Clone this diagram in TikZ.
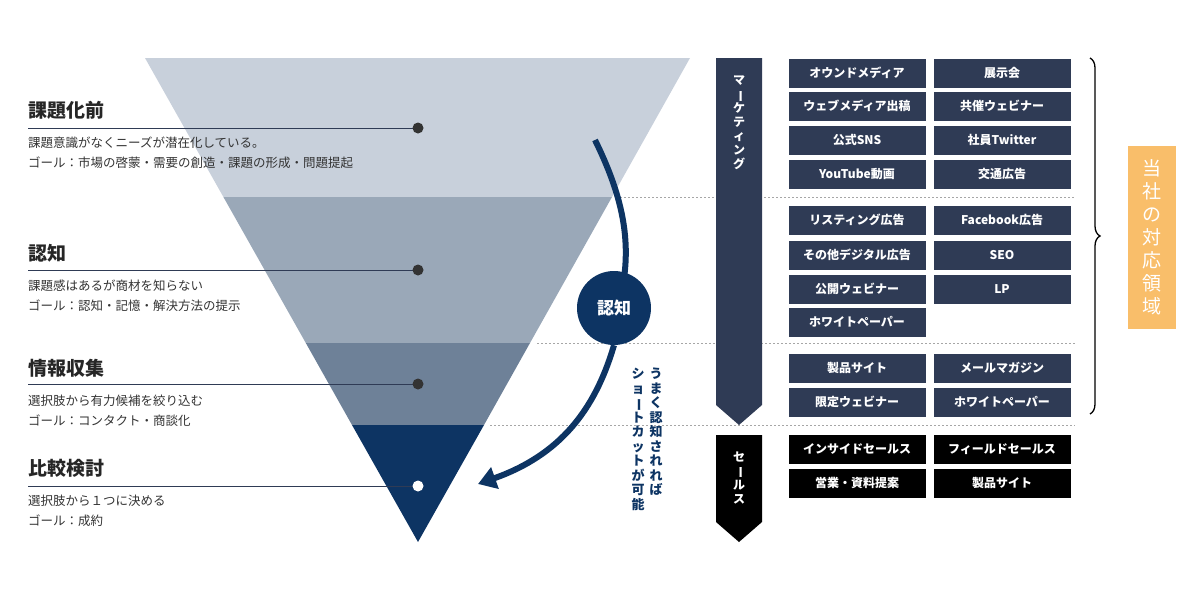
\documentclass[tikz,border=0pt]{standalone}
\usepackage{fontspec}
\usepackage{graphicx}
\setmainfont{Noto Sans CJK JP}
\usetikzlibrary{decorations.pathreplacing,arrows.meta}
\newcommand{\vbar}{\rotatebox[origin=c]{-90}{ー}}
\definecolor{navy}{HTML}{0D3463}
\definecolor{bar}{HTML}{2F3B55}
\definecolor{l1}{HTML}{C8D0DB}
\definecolor{l2}{HTML}{9AA8B8}
\definecolor{l3}{HTML}{6E8198}
\definecolor{org}{HTML}{F9BE6A}
\tikzset{
 bx/.style={fill=bar,text=white,font=\fontsize{12}{12}\selectfont\bfseries,minimum width=137pt,minimum height=29pt,inner sep=0pt},
 sbx/.style={bx,fill=black},
 ttl/.style={anchor=west,font=\fontsize{19}{19}\selectfont\bfseries,text=black!85,inner sep=0},
 dsc/.style={anchor=west,font=\fontsize{12.5}{12.5}\selectfont,text=black!80,inner sep=0},
 dots/.style={gray!70,dash pattern=on 2pt off 2pt,line width=0.8pt},
 vt/.style={align=center,font=\fontsize{13}{14.5}\selectfont\bfseries,inner sep=0},
}
\begin{document}
\begin{tikzpicture}[x=1pt,y=-1pt]
\useasboundingbox (0,0) rectangle (1200,600);
% funnel
\fill[l1] (145,58) -- (690,58) -- (612,197) -- (223.4,197) -- cycle;
\fill[l2] (223.4,197) -- (612,197) -- (530,343) -- (305.8,343) -- cycle;
\fill[l3] (305.8,343) -- (530,343) -- (484,425) -- (352,425) -- cycle;
\fill[navy] (352,425) -- (484,425) -- (418,542) -- cycle;
% dotted lines
\draw[dots] (620,197) -- (1075,197);
\draw[dots] (537,343) -- (1075,343);
\draw[dots] (490,425) -- (1075,425);
% left labels
\foreach \y/\t/\a/\b/\c/\dc in {110/課題化前/課題意識がなくニーズが潜在化している。/ゴール：市場の啓蒙・需要の創造・課題の形成・問題提起/128/black!80,
 253/認知/課題感はあるが商材を知らない/ゴール：認知・記憶・解決方法の提示/270/black!80,
 368/情報収集/選択肢から有力候補を絞り込む/ゴール：コンタクト・商談化/384/black!80,
 468/比較検討/選択肢から１つに決める/ゴール：成約/486/white}{
 \node[ttl] at (28,\y) {\t};
 \node[dsc] at (28,\y+33) {\a};
 \node[dsc] at (28,\y+53) {\b};
 \draw[bar,line width=1pt] (28,\c) -- (418,\c);
 \fill[\dc] (418,\c) circle (5.5pt);
}
% arrow
\draw[navy,line width=6pt] (595,140) .. controls (622,195) and (632,240) .. (622,290);
\node[circle,fill=navy,minimum size=74pt,text=white,font=\fontsize{17}{17}\selectfont\bfseries] (ck) at (614,308) {認知};
\draw[navy,line width=6pt,-{Triangle[length=18pt,width=22pt]}] (ck.south) .. controls (595,410) and (560,455) .. (478,484);
% vertical note
\node[vt,text=navy,anchor=north] (n1) at (656,368) {う\\ま\\く\\認\\知\\さ\\れ\\れ\\ば};
\node[vt,text=navy,anchor=north] (n2) at (638,368) {シ\\ョ\\\vbar\\ト\\カ\\ッ\\ト\\が\\可\\能};
% bars
\fill[bar] (716,58) -- (762,58) -- (762,405) -- (739,425) -- (716,405) -- cycle;
\node[vt,text=white,anchor=north,font=\fontsize{12}{14}\selectfont\bfseries] (mk) at (739,76) {マ\\\vbar\\ケ\\テ\\ィ\\ン\\グ};
\fill[black] (716,435) -- (762,435) -- (762,522) -- (739,542) -- (716,522) -- cycle;
\node[vt,text=white,anchor=north,font=\fontsize{12}{14}\selectfont\bfseries] (sl) at (739,452) {セ\\\vbar\\ル\\ス};
% boxes
\node[bx] (a1) at (857,73) {オウンドメディア};
\node[bx] (a2) at (1002,73) {展示会};
\node[bx] (b1) at (857,106) {ウェブメディア出稿};
\node[bx] (b2) at (1002,106) {共催ウェビナー};
\node[bx] (c1) at (857,140) {公式SNS};
\node[bx] (c2) at (1002,140) {社員Twitter};
\node[bx] (d1) at (857,174) {YouTube動画};
\node[bx] (d2) at (1002,174) {交通広告};
\node[bx] (e1) at (857,220) {リスティング広告};
\node[bx] (e2) at (1002,220) {Facebook広告};
\node[bx] (f1) at (857,255) {その他デジタル広告};
\node[bx] (f2) at (1002,255) {SEO};
\node[bx] (g1) at (857,289) {公開ウェビナー};
\node[bx] (g2) at (1002,289) {LP};
\node[bx] (h1) at (857,322) {ホワイトペーパー};
\node[bx] (i1) at (857,368) {製品サイト};
\node[bx] (i2) at (1002,368) {メールマガジン};
\node[bx] (j1) at (857,402) {限定ウェビナー};
\node[bx] (j2) at (1002,402) {ホワイトペーパー};
\node[sbx] (k1) at (857,449) {インサイドセールス};
\node[sbx] (k2) at (1002,449) {フィールドセールス};
\node[sbx] (l1n) at (857,483) {営業・資料提案};
\node[sbx] (l2n) at (1002,483) {製品サイト};
% brace
\draw[black,line width=1.3pt,decorate,decoration={brace,amplitude=10pt}] (1090,58) -- (1090,414);
\node[fill=org,minimum width=48pt,minimum height=183pt,inner sep=0,align=center,text=white,font=\fontsize{19}{23}\selectfont] (tag) at (1152,237) {当\\社\\の\\対\\応\\領\\域};
\end{tikzpicture}
\end{document}
